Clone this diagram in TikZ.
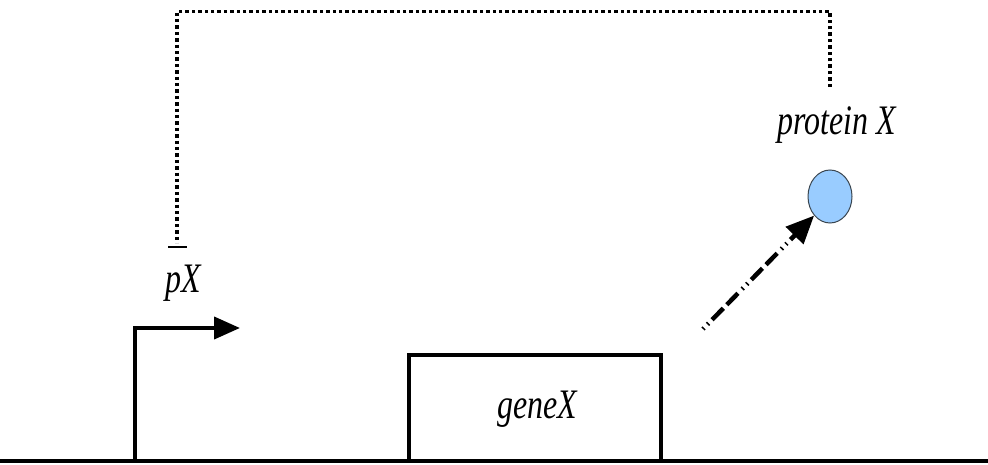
\documentclass[tikz,border=0pt]{standalone}
\usepackage{fontspec}
\setmainfont{Liberation Serif}
\usetikzlibrary{arrows.meta,shapes.geometric}
\definecolor{protblue}{HTML}{99CCFF}
\definecolor{protedge}{HTML}{3A4650}
\tikzset{
  dna/.style={line width=4.5pt},
  part/.style={line width=4pt, line cap=butt, line join=miter},
  label/.style={anchor=base, inner sep=0pt, font=\fontsize{42}{42}\selectfont\itshape},
  repress/.style={line width=3.6pt, dash pattern=on 3.4pt off 3pt},
  express/.style={line width=4.5pt, dash pattern=on 1.5pt off 5pt on 1.5pt off 5pt on 16pt off 5pt on 16pt off 6pt,
                  -{Triangle[length=28pt,width=24pt]}},
  promarrow/.style={part, -{Triangle[length=26pt,width=22pt]}},
  protein/.style={ellipse, draw=protedge, line width=1pt, fill=protblue, minimum width=44pt, minimum height=53pt, inner sep=0pt}
}
\newcommand{\lbl}[1]{\scalebox{0.76}[1]{#1}}
\begin{document}
\begin{tikzpicture}[x=1pt, y=-1pt]
  \useasboundingbox (0,0) rectangle (988,465);

  % DNA strand
  \coordinate (dnaL) at (0,461);
  \coordinate (dnaR) at (988,461);
  \draw[dna] (dnaL) -- (dnaR);

  % promoter pX
  \coordinate (promFoot) at (135,461);
  \coordinate (promTip) at (240,328);
  \draw[promarrow] (promFoot) |- (promTip);
  \node[label] (pX) at (183,292) {\lbl{pX}};

  % coding region geneX
  \coordinate (geneL) at (409,461);
  \coordinate (geneR) at (661,461);
  \draw[part] (geneL) -- (409,355) -- (661,355) -- (geneR);
  \node[label] (geneX) at (537,418) {\lbl{geneX}};

  % protein product
  \node[protein] (prot) at (830,196.5) {};
  \node[label] (protlbl) at (837,135) {\lbl{protein X}};

  % expression of geneX into protein X
  \coordinate (exprStart) at (703,329);
  \draw[express] (exprStart) -- (prot.south west);

  % negative feedback of protein X on pX
  \coordinate (fbStart) at (830,87);
  \coordinate (fbEnd) at (177,243);
  \draw[repress] (fbStart) -- (830,11.5) -- (177,11.5) -- (fbEnd);
  \draw[line width=2pt] (168,247) -- (187,247);
\end{tikzpicture}
\end{document}
